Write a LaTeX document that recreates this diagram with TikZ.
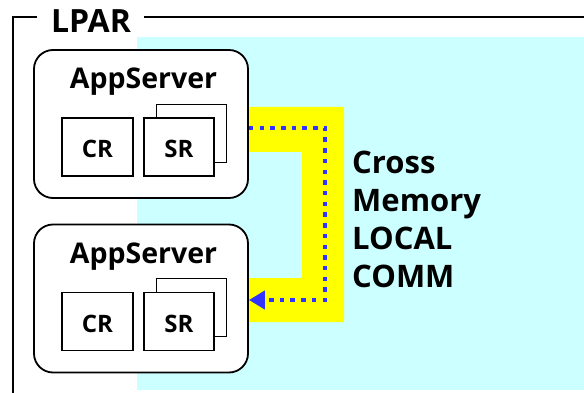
\documentclass[tikz,border=0pt]{standalone}
\usepackage{fontspec}
\setmainfont{Open Sans}
\usetikzlibrary{arrows.meta}
\definecolor{cyanbg}{RGB}{204,255,255}
\definecolor{yel}{RGB}{255,255,0}
\definecolor{dotblue}{RGB}{51,51,255}
\tikzset{
  appbox/.style={draw=black, line width=1.8pt, fill=white, rounded corners=19pt, minimum width=214pt, minimum height=148pt, inner sep=0pt},
  rbox/.style={draw=black, line width=1.8pt, fill=white, minimum width=70pt, minimum height=58pt, inner sep=0pt, font=\bfseries\fontsize{24}{28}\selectfont, text height=22pt, text depth=0pt},
  apptext/.style={anchor=base, inner sep=0pt, font=\bfseries\fontsize{28.5}{36}\selectfont},
  bigtext/.style={anchor=base west, inner sep=0pt, align=left, font=\bfseries\fontsize{31}{38}\selectfont},
  framel/.style={draw=black, line width=2pt},
  dotarrow/.style={draw=dotblue, line width=4.5pt, dash pattern=on 4.5pt off 6.2pt, -{Triangle[length=16pt,width=18pt]}}
}
\begin{document}
\begin{tikzpicture}[x=1pt,y=-1pt]
\useasboundingbox (0,0) rectangle (584,393);
\fill[white] (0,0) rectangle (584,393);
% cyan area
\fill[cyanbg] (137,37) rectangle (584,390);
% yellow bracket
\fill[yel] (248,107) -- (344,107) -- (344,322) -- (248,322) -- (248,278) -- (302,278) -- (302,152) -- (248,152) -- cycle;
% app servers
\node[appbox] (as1) at (141,124) {};
\node[appbox] (as2) at (141,298.5) {};
\node[apptext] (t1) at (143.5,89) {AppServer};
\node[apptext] (t2) at (143.5,263) {AppServer};
% inner boxes server 1
\node[rbox, minimum width=71pt] (cr1) at (97.5,147) {CR};
\node[rbox] (srb1) at (191.5,133.5) {};
\node[rbox] (sr1) at (179,147) {SR};
% inner boxes server 2
\node[rbox, minimum width=71pt] (cr2) at (97.5,321.5) {CR};
\node[rbox] (srb2) at (191.5,307.5) {};
\node[rbox] (sr2) at (179,321.5) {SR};
% dotted arrow
\coordinate (d1) at ([yshift=-4pt]as1.east);
\coordinate (d2) at ([yshift=-1.5pt]as2.east);
\coordinate (turn) at (325,128);
\draw[dotarrow] (d1) -- (turn) |- (d2);
% label
\node[bigtext] (cm) at (352,287) {Cross\\Memory\\LOCAL\\COMM};
% LPAR frame
\coordinate (fl) at (37,17);
\coordinate (fr) at (144,17);
\coordinate (fb) at (13,393);
\draw[framel] (fl) -- (13,17) -- (fb);
\draw[framel] (fr) -- (584,17);
\node[anchor=base, inner sep=0pt, font=\bfseries\fontsize{32}{38}\selectfont] (lpar) at (91,33) {LPAR};
\end{tikzpicture}
\end{document}
